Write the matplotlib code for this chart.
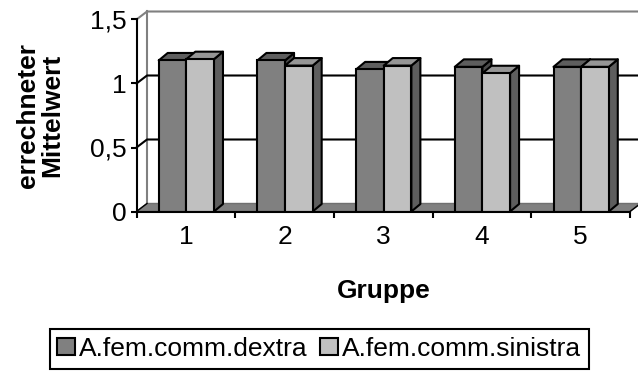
import matplotlib
matplotlib.use("Agg")
import matplotlib.pyplot as plt
from matplotlib.patches import Polygon, Patch

plt.rcParams['font.family'] = ['Liberation Sans', 'DejaVu Sans']

# Werte
gruppen = [1, 2, 3, 4, 5]
dextra = [1.18, 1.18, 1.11, 1.13, 1.13]
sinistra = [1.19, 1.14, 1.14, 1.08, 1.13]
serien = ['A.fem.comm.dextra', 'A.fem.comm.sinistra']
farben = ['#808080', '#c0c0c0']
farben_oben = ['#5e5e5e', '#969696']
farben_seite = ['#4a4a4a', '#5e5e5e']
y_ticks = [0, 0.5, 1, 1.5]
y_labels = ['0', '0,5', '1', '1,5']

W, H = 638, 374
fs = 19
lw = 1.5


def main():
    fig = plt.figure(figsize=(W / 100, H / 100), dpi=100)
    ax_px = (136.5, 162.5, 493.5, 192.0)
    ax = fig.add_axes([ax_px[0] / W, ax_px[1] / H, ax_px[2] / W, ax_px[3] / H])
    ax.set_xlim(0.5, 5.5)
    ax.set_ylim(0, 1.5)
    ax.patch.set_visible(False)

    # pixel -> data units for the 3d depth
    ux = ax_px[2] / 5.0
    uy = ax_px[3] / 1.5
    wdx, wdy = 10.5 / ux, 8.0 / uy   # walls / floor
    bdx, bdy = 9.0 / ux, 7.5 / uy    # bars

    x0, x1 = 0.5, 5.5
    ytop = 1.5

    # side wall + back wall
    ax.add_patch(Polygon([(x0, 0), (x0 + wdx, wdy), (x0 + wdx, ytop + wdy), (x0, ytop)],
                         closed=True, facecolor='white', edgecolor='none', clip_on=False, zorder=1))
    ax.add_patch(Polygon([(x0 + wdx, wdy), (x1 + wdx, wdy), (x1 + wdx, ytop + wdy), (x0 + wdx, ytop + wdy)],
                         closed=True, facecolor='white', edgecolor='none', clip_on=False, zorder=1))
    ax.plot([x0, x0 + wdx, x1 + wdx], [ytop, ytop + wdy, ytop + wdy], color='#808080',
            lw=lw, clip_on=False, zorder=2, solid_capstyle='butt')
    ax.plot([x0 + wdx, x0 + wdx], [wdy, ytop + wdy], color='#808080', lw=lw, clip_on=False, zorder=2)

    # gridlines
    for yv in y_ticks[1:-1]:
        ax.plot([x0, x0 + wdx, x1 + wdx], [yv, yv + wdy, yv + wdy], color='black',
                lw=lw, clip_on=False, zorder=2)

    # floor
    ax.add_patch(Polygon([(x0, 0), (x1, 0), (x1 + wdx, wdy), (x0 + wdx, wdy)], closed=True,
                         facecolor='#808080', edgecolor='#707070', lw=1.0, clip_on=False, zorder=3))
    ax.plot([x0, x0 + wdx], [0, wdy], color='black', lw=1.0, clip_on=False, zorder=3)
    ax.plot([x1, x1 + wdx], [0, wdy], color='black', lw=1.0, clip_on=False, zorder=3)

    # bars
    bw = 0.28
    werte = [dextra, sinistra]
    z = 4
    for g in range(len(gruppen)):
        for s in range(2):
            xl = gruppen[g] - bw + s * bw + 0.005
            xr = xl + bw
            h = werte[s][g]
            ax.add_patch(Polygon([(xr, 0), (xr + bdx, bdy), (xr + bdx, h + bdy), (xr, h)], closed=True,
                                 facecolor=farben_seite[s], edgecolor='black', lw=lw, zorder=z,
                                 joinstyle='round'))
            ax.add_patch(Polygon([(xl, h), (xl + bdx, h + bdy), (xr + bdx, h + bdy), (xr, h)], closed=True,
                                 facecolor=farben_oben[s], edgecolor='black', lw=lw, zorder=z,
                                 joinstyle='round'))
            ax.bar(xl, h, width=bw, align='edge', color=farben[s], edgecolor='black',
                   linewidth=lw, zorder=z + 0.5)
            z += 1

    # axes
    for sp in ['top', 'right']:
        ax.spines[sp].set_visible(False)
    for sp in ['left', 'bottom']:
        ax.spines[sp].set_linewidth(lw)
        ax.spines[sp].set_zorder(50)
    ax.set_yticks(y_ticks)
    ax.set_yticklabels(y_labels, fontsize=fs)
    ax.tick_params(axis='y', length=4, width=lw, pad=3)
    ax.set_xticks(gruppen)
    ax.set_xticklabels([str(g) for g in gruppen], fontsize=fs)
    ax.set_xticks([x0 + i for i in range(6)], minor=True)
    ax.tick_params(axis='x', which='major', length=0, pad=10)
    ax.tick_params(axis='x', which='minor', length=4, width=lw)

    fig.text(40 / W, 1 - 115 / H, 'errechneter\nMittelwert', rotation=90, ha='center', va='center',
             fontsize=fs, fontweight='bold', linespacing=1.0, multialignment='center')
    fig.text(384 / W, 1 - 298 / H, 'Gruppe', ha='center', va='baseline', fontsize=fs, fontweight='bold')

    handles = [Patch(facecolor=farben[i], edgecolor='black', linewidth=lw, label=serien[i]) for i in range(2)]
    leg = fig.legend(handles=handles, loc='center', bbox_to_anchor=(0.5, 1 - 348.7 / H), ncol=2,
                     fontsize=fs, frameon=True, fancybox=False, framealpha=1, edgecolor='black',
                     handlelength=0.65, handleheight=0.65, handletextpad=0.15, columnspacing=0.5,
                     borderpad=0.3, borderaxespad=0)
    leg.get_frame().set_linewidth(lw)

    fig.savefig('out.png', dpi=100)


if __name__ == "__main__":
    main()
